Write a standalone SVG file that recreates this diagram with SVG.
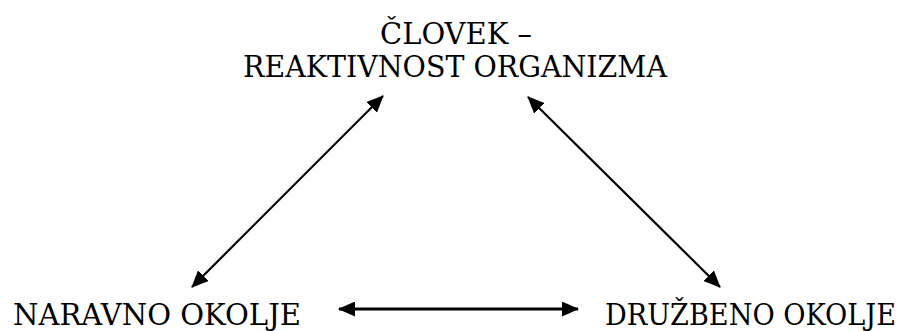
<svg xmlns="http://www.w3.org/2000/svg" width="907" height="331" viewBox="0 0 907 331">
<style>
text{font-family:'DejaVu Serif','Liberation Serif',serif;font-size:29px;fill:#000}
.c{stroke:#000;stroke-width:2.2;fill:none;marker-start:url(#ah);marker-end:url(#ah)}
.h{stroke-width:2.8}
</style>
<defs>
<marker id="ah" markerUnits="userSpaceOnUse" markerWidth="18" markerHeight="15" refX="16" refY="7.5" orient="auto-start-reverse" viewBox="0 0 18 15">
<path d="M0,0 L17,7.5 L0,15 Z" fill="#000"/>
</marker>
</defs>
<rect width="907" height="331" fill="#fff"/>
<g id="clovek">
<text x="380" y="44" textLength="152" lengthAdjust="spacingAndGlyphs">ČLOVEK –</text>
<text x="243" y="77" textLength="424" lengthAdjust="spacingAndGlyphs">REAKTIVNOST ORGANIZMA</text>
</g>
<g id="naravno">
<text x="13" y="325" textLength="288" lengthAdjust="spacingAndGlyphs">NARAVNO OKOLJE</text>
</g>
<g id="druzbeno">
<text x="605" y="325" textLength="291" lengthAdjust="spacingAndGlyphs">DRUŽBENO OKOLJE</text>
</g>
<g id="connectors">
<line class="c" x1="192" y1="287" x2="383" y2="96"/>
<line class="c" x1="528" y1="97" x2="720" y2="287"/>
<line class="c h" x1="339" y1="309" x2="578" y2="309"/>
</g>
</svg>
